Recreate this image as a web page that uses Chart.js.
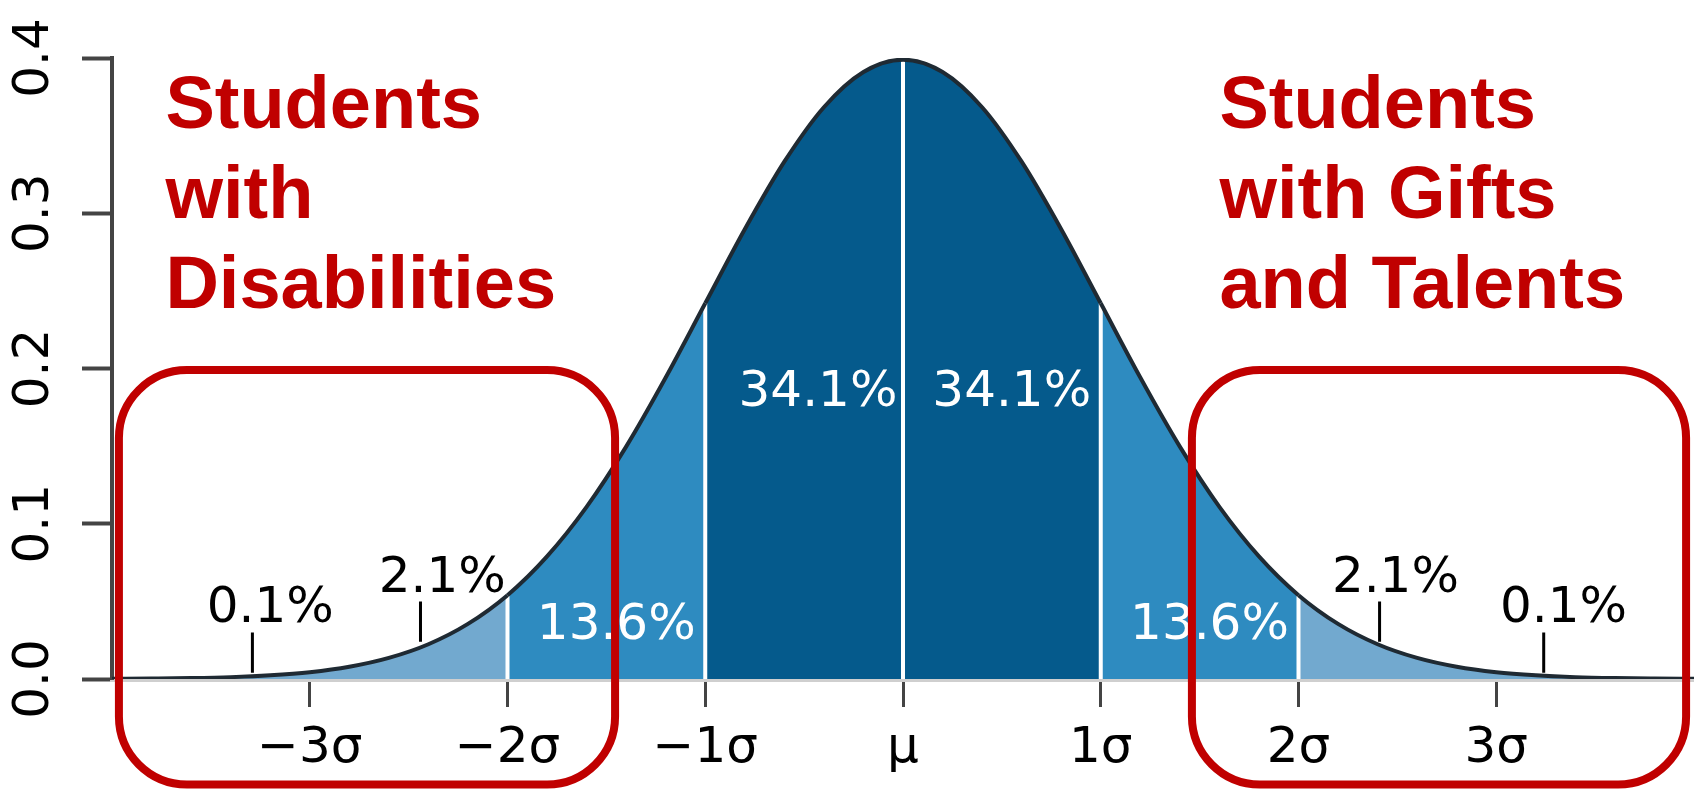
<!DOCTYPE html>
<html>
<head>
<meta charset="utf-8">
<script src="https://cdn.jsdelivr.net/npm/chart.js@4.4.1/dist/chart.umd.min.js"></script>
<style>
  html, body { margin: 0; padding: 0; background: #fff; }
  #wrap { width: 1694px; height: 789px; position: relative; }
</style>
</head>
<body>
<div id="wrap"><canvas id="bell"></canvas></div>
<script>
// curve samples: x in standard deviations, density
const sigmaX = [-4.0, -3.8, -3.6, -3.4, -3.2, -3.0, -2.8, -2.6, -2.4, -2.2,
                -2.0, -1.8, -1.6, -1.4, -1.2, -1.0, -0.8, -0.6, -0.4, -0.2,
                 0.0,  0.2,  0.4,  0.6,  0.8,  1.0,  1.2,  1.4,  1.6,  1.8,
                 2.0,  2.2,  2.4,  2.6,  2.8,  3.0,  3.2,  3.4,  3.6,  3.8, 4.0];
const density = [0.0001, 0.0003, 0.0006, 0.0012, 0.0024, 0.0044, 0.0079, 0.0136, 0.0224, 0.0355,
                 0.0540, 0.0790, 0.1109, 0.1497, 0.1942, 0.2420, 0.2897, 0.3332, 0.3683, 0.3910,
                 0.3989, 0.3910, 0.3683, 0.3332, 0.2897, 0.2420, 0.1942, 0.1497, 0.1109, 0.0790,
                 0.0540, 0.0355, 0.0224, 0.0136, 0.0079, 0.0044, 0.0024, 0.0012, 0.0006, 0.0003, 0.0001];

const xTickValues = [-3, -2, -1, 0, 1, 2, 3];
const xTickLabels = ['\u22123\u03c3', '\u22122\u03c3', '\u22121\u03c3', '\u03bc', '1\u03c3', '2\u03c3', '3\u03c3'];
const yTickValues = [0, 0.1, 0.2, 0.3, 0.4];
const yTickLabels = ['0.0', '0.1', '0.2', '0.3', '0.4'];

// bands of the fill (by |x|)
const bandEdge = [1, 2, 3];
const bandColor = ['#055a8c', '#2e8bc0', '#72a9cf', '#72a9cf'];

// white separators between bands
const dividerX = [-2, -1, 0, 1, 2];
const dividerTop = [0.054, 0.242, 0.399, 0.242, 0.054];

// share of each band
const pctText = ['0.1%', '2.1%', '13.6%', '34.1%', '34.1%', '13.6%', '2.1%', '0.1%'];
const pctX = [-3.20, -2.33, -1.45, -0.43, 0.55, 1.55, 2.49, 3.34];
const pctY = [0.037, 0.056, 0.026, 0.176, 0.176, 0.026, 0.056, 0.037];
const pctWhite = [false, false, true, true, true, true, false, false];

// little leader marks under the tail labels
const leaderX = [-3.29, -2.44, 2.41, 3.24];
const leaderLow = [0.004, 0.024, 0.024, 0.004];
const leaderHigh = [0.030, 0.050, 0.050, 0.030];

// red call-outs
const groupLines = [['Students', 'with', 'Disabilities'], ['Students', 'with Gifts', 'and Talents']];
const groupX = [-3.73, 1.60];
const groupLineY = [0.355, 0.297, 0.239];
const boxLeft = [-3.965, 1.461];
const boxRight = [-1.456, 3.960];
const boxTop = 0.199;
const boxBottom = -0.068;

function bandOf(x) {
  const a = Math.abs(x);
  let i = 0;
  while (i < bandEdge.length && a >= bandEdge[i]) i++;
  return bandColor[i];
}

function verticals(xs, lo, hi) {
  const pts = [];
  xs.forEach((x, i) => {
    pts.push({x: x, y: Array.isArray(lo) ? lo[i] : lo});
    pts.push({x: x, y: hi[i]});
    pts.push({x: x, y: null});
  });
  return pts;
}

function roundBox(ctx, x0, y0, x1, y1, r) {
  ctx.beginPath();
  ctx.moveTo(x0 + r, y0);
  ctx.arcTo(x1, y0, x1, y1, r);
  ctx.arcTo(x1, y1, x0, y1, r);
  ctx.arcTo(x0, y1, x0, y0, r);
  ctx.arcTo(x0, y0, x1, y0, r);
  ctx.closePath();
}

const overlay = {
  id: 'overlay',
  afterDatasetsDraw(chart) {
    const ctx = chart.ctx, xs = chart.scales.x, ys = chart.scales.y;
    ctx.save();
    ctx.font = '50px "DejaVu Sans"';
    ctx.textAlign = 'center';
    ctx.textBaseline = 'alphabetic';
    pctText.forEach((t, i) => {
      ctx.fillStyle = pctWhite[i] ? '#ffffff' : '#000000';
      ctx.fillText(t, xs.getPixelForValue(pctX[i]), ys.getPixelForValue(pctY[i]));
    });
    ctx.restore();
  },
  afterDraw(chart) {
    const ctx = chart.ctx, xs = chart.scales.x, ys = chart.scales.y;
    ctx.save();
    ctx.strokeStyle = '#c00000';
    ctx.lineWidth = 8;
    boxLeft.forEach((l, i) => {
      roundBox(ctx, xs.getPixelForValue(l), ys.getPixelForValue(boxTop),
               xs.getPixelForValue(boxRight[i]), ys.getPixelForValue(boxBottom), 68);
      ctx.stroke();
    });
    ctx.fillStyle = '#c00000';
    ctx.font = 'bold 74px "Liberation Sans", Arial, sans-serif';
    ctx.textAlign = 'left';
    ctx.textBaseline = 'alphabetic';
    groupLines.forEach((lines, g) => {
      lines.forEach((t, k) => {
        ctx.fillText(t, xs.getPixelForValue(groupX[g]), ys.getPixelForValue(groupLineY[k]));
      });
    });
    ctx.restore();
  }
};

Chart.defaults.font.family = '"DejaVu Sans", sans-serif';

new Chart(document.getElementById('bell'), {
  type: 'line',
  data: {
    datasets: [
      {
        data: sigmaX.map((x, i) => ({x: x, y: density[i]})),
        borderColor: '#1f2a33',
        borderWidth: 4,
        backgroundColor: bandColor[0],
        fill: 'origin',
        pointRadius: 0,
        cubicInterpolationMode: 'monotone',
        segment: {
          backgroundColor: c => bandOf((c.p0.parsed.x + c.p1.parsed.x) / 2)
        },
        order: 0
      },
      {
        data: verticals(dividerX, 0, dividerTop),
        borderColor: '#ffffff',
        borderWidth: 4,
        pointRadius: 0,
        fill: false,
        spanGaps: false,
        order: 2
      },
      {
        data: verticals(leaderX, leaderLow, leaderHigh),
        borderColor: '#000000',
        borderWidth: 3,
        pointRadius: 0,
        fill: false,
        spanGaps: false,
        order: 1
      }
    ]
  },
  options: {
    responsive: true,
    maintainAspectRatio: false,
    animation: false,
    events: [],
    layout: { padding: { top: 58, left: 0, right: 0, bottom: 0 } },
    plugins: {
      legend: { display: false },
      tooltip: { enabled: false },
      filler: { drawTime: 'beforeDatasetsDraw' }
    },
    scales: {
      x: {
        type: 'linear',
        min: -4,
        max: 4,
        afterBuildTicks: s => { s.ticks = xTickValues.map(v => ({value: v})); },
        afterFit: s => { s.height = 110; },
        ticks: {
          callback: (v, i) => xTickLabels[i],
          color: '#000',
          font: { size: 50 },
          padding: 12,
          maxRotation: 0,
          autoSkip: false
        },
        grid: {
          drawOnChartArea: false,
          drawTicks: true,
          tickLength: 28,
          tickColor: '#444',
          tickWidth: 3
        },
        border: { display: true, color: '#cfcfcf', width: 5 }
      },
      y: {
        min: 0,
        max: 0.4,
        afterBuildTicks: s => { s.ticks = yTickValues.map(v => ({value: v})); },
        afterFit: s => { s.width = 112; },
        ticks: {
          callback: (v, i) => yTickLabels[i],
          color: '#000',
          font: { size: 50 },
          padding: 7,
          minRotation: 90,
          maxRotation: 90,
          crossAlign: 'center'
        },
        grid: {
          drawOnChartArea: false,
          drawTicks: true,
          tickLength: 30,
          tickColor: '#444',
          tickWidth: 4
        },
        border: { display: true, color: '#444', width: 4 }
      }
    }
  },
  plugins: [overlay]
});
</script>
</body>
</html>
